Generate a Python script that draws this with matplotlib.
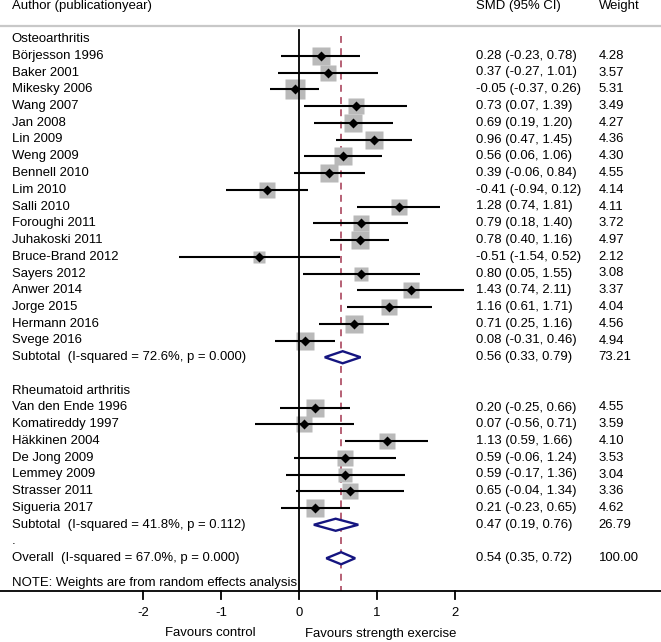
import matplotlib
matplotlib.use("Agg")
import matplotlib.pyplot as plt
import numpy as np

plt.rcParams['font.family'] = ['Liberation Sans', 'DejaVu Sans']

# ---------------- data ----------------
oa_studies = ["Börjesson 1996", "Baker 2001", "Mikesky 2006", "Wang 2007", "Jan 2008",
              "Lin 2009", "Weng 2009", "Bennell 2010", "Lim 2010", "Salli 2010",
              "Foroughi 2011", "Juhakoski 2011", "Bruce-Brand 2012", "Sayers 2012",
              "Anwer 2014", "Jorge 2015", "Hermann 2016", "Svege 2016"]
oa_smd = [0.28, 0.37, -0.05, 0.73, 0.69, 0.96, 0.56, 0.39, -0.41, 1.28,
          0.79, 0.78, -0.51, 0.80, 1.43, 1.16, 0.71, 0.08]
oa_lo = [-0.23, -0.27, -0.37, 0.07, 0.19, 0.47, 0.06, -0.06, -0.94, 0.74,
         0.18, 0.40, -1.54, 0.05, 0.74, 0.61, 0.25, -0.31]
oa_hi = [0.78, 1.01, 0.26, 1.39, 1.20, 1.45, 1.06, 0.84, 0.12, 1.81,
         1.40, 1.16, 0.52, 1.55, 2.11, 1.71, 1.16, 0.46]
oa_w = [4.28, 3.57, 5.31, 3.49, 4.27, 4.36, 4.30, 4.55, 4.14, 4.11,
        3.72, 4.97, 2.12, 3.08, 3.37, 4.04, 4.56, 4.94]

ra_studies = ["Van den Ende 1996", "Komatireddy 1997", "Häkkinen 2004", "De Jong 2009",
              "Lemmey 2009", "Strasser 2011", "Sigueria 2017"]
ra_smd = [0.20, 0.07, 1.13, 0.59, 0.59, 0.65, 0.21]
ra_lo = [-0.25, -0.56, 0.59, -0.06, -0.17, -0.04, -0.23]
ra_hi = [0.66, 0.71, 1.66, 1.24, 1.36, 1.34, 0.65]
ra_w = [4.55, 3.59, 4.10, 3.53, 3.04, 3.36, 4.62]

subtotal_labels = ["Subtotal  (I-squared = 72.6%, p = 0.000)",
                   "Subtotal  (I-squared = 41.8%, p = 0.112)"]
subtotal_est = [0.56, 0.47]
subtotal_lo = [0.33, 0.19]
subtotal_hi = [0.79, 0.76]
subtotal_w = ["73.21", "26.79"]

overall_label = "Overall  (I-squared = 67.0%, p = 0.000)"
overall_est = 0.54
overall_lo = 0.35
overall_hi = 0.72
overall_w = "100.00"

group_names = ["Osteoarthritis", "Rheumatoid arthritis"]
xticks = [-2, -1, 0, 1, 2]

# ---------------- layout ----------------
W, H, DPI = 661, 642, 100
fig = plt.figure(figsize=(W / DPI, H / DPI), dpi=DPI)
ax = fig.add_axes([0, 0, 1, 1])

x0_px, unit_px = 299.0, 78.0
y0_px, row_px = 39.0, 16.75


def px_x(p):
    return (p - x0_px) / unit_px


def px_y(p):
    return (p - y0_px) / row_px


ax.set_xlim(px_x(0), px_x(W))
ax.set_ylim(px_y(H), px_y(0))
ax.axis('off')

fs = 9.45
x_lab = px_x(11.7)
x_smd = px_x(475.5)
x_wt = px_x(598.5)

box_col = '#b9b9b9'
dia_col = '#151580'
ref_col = '#a3364f'


def fmt(e, l, h):
    return f"{e:.2f} ({l:.2f}, {h:.2f})"


# header
ax.text(x_lab, px_y(6), "Author (publicationyear)", fontsize=fs, va='center', ha='left')
ax.text(x_smd, px_y(6), "SMD (95% CI)", fontsize=fs, va='center', ha='left')
ax.text(x_wt, px_y(6), "Weight", fontsize=fs, va='center', ha='left')
ax.plot([px_x(0), px_x(W)], [px_y(25.7)] * 2, color='#c8c8c8', lw=1.6,
        solid_capstyle='butt', zorder=1)

# reference lines
ax.plot([0, 0], [px_y(30), px_y(591)], color='black', lw=1.3, zorder=3)
ax.plot([overall_est, overall_est], [px_y(36), px_y(591)], color=ref_col, lw=1.1,
        dashes=(4.5, 3.5), zorder=1)


def draw_study(row, name, e, l, h, w):
    ax.text(x_lab, row, name, fontsize=fs, va='center', ha='left')
    ax.text(x_smd, row, fmt(e, l, h), fontsize=fs, va='center', ha='left')
    ax.text(x_wt, row, f"{w:.2f}", fontsize=fs, va='center', ha='left')
    ax.plot([e], [row], marker='s', ms=6.0 * np.sqrt(w), color=box_col,
            mec='none', zorder=2)
    ax.plot([l, h], [row, row], color='black', lw=1.5, solid_capstyle='butt', zorder=4)
    ax.plot([e], [row], marker='D', ms=4.6, color='black', mec='none', zorder=5)


def draw_diamond(row, label, e, l, h, wtxt):
    ax.text(x_lab, row, label, fontsize=fs, va='center', ha='left')
    ax.text(x_smd, row, fmt(e, l, h), fontsize=fs, va='center', ha='left')
    ax.text(x_wt, row, wtxt, fontsize=fs, va='center', ha='left')
    hh = 0.36
    ax.fill([l, e, h, e, l], [row, row - hh, row, row + hh, row], facecolor='white',
            edgecolor=dia_col, lw=1.7, zorder=6, joinstyle='miter')


row = 0
ax.text(x_lab, row, group_names[0], fontsize=fs, va='center', ha='left')
for i, n in enumerate(oa_studies):
    row += 1
    draw_study(row, n, oa_smd[i], oa_lo[i], oa_hi[i], oa_w[i])
row += 1
draw_diamond(row, subtotal_labels[0], subtotal_est[0], subtotal_lo[0], subtotal_hi[0], subtotal_w[0])
row += 2
ax.text(x_lab, row, group_names[1], fontsize=fs, va='center', ha='left')
for i, n in enumerate(ra_studies):
    row += 1
    draw_study(row, n, ra_smd[i], ra_lo[i], ra_hi[i], ra_w[i])
row += 1
draw_diamond(row, subtotal_labels[1], subtotal_est[1], subtotal_lo[1], subtotal_hi[1], subtotal_w[1])
row += 1
ax.text(x_lab, row, ".", fontsize=fs, va='center', ha='left')
row += 1
draw_diamond(row, overall_label, overall_est, overall_lo, overall_hi, overall_w)

ax.text(x_lab, px_y(582.7), "NOTE: Weights are from random effects analysis",
        fontsize=fs, va='center', ha='left')

# bottom axis
ax.plot([px_x(0), px_x(W)], [px_y(591)] * 2, color='black', lw=1.3, zorder=3)
for t in xticks:
    ax.plot([t, t], [px_y(591), px_y(599)], color='black', lw=1.3)
    ax.text(t, px_y(613), f"{t}", fontsize=fs, ha='center', va='center')
ax.text(px_x(256), px_y(633.5), "Favours control", fontsize=fs, ha='right', va='center')
ax.text(px_x(305), px_y(633.5), "Favours strength exercise", fontsize=fs, ha='left', va='center')

fig.savefig("out.png", dpi=DPI)
